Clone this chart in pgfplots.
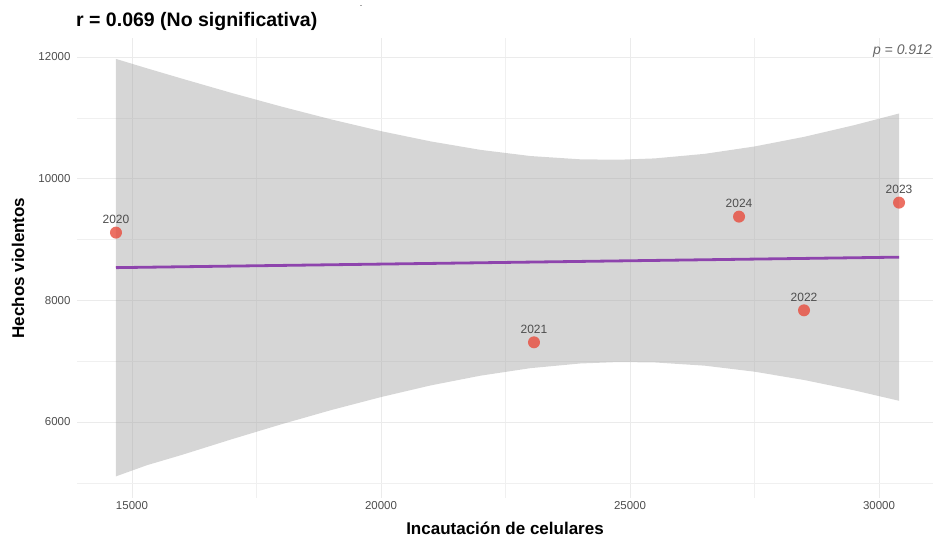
\documentclass[border=0pt]{standalone}
\usepackage{pgfplots}
\pgfplotsset{compat=1.18}
\usepackage{fontspec}
\setmainfont{Liberation Sans}
\definecolor{ptred}{HTML}{E74C3C}
\definecolor{linepurple}{HTML}{8E44AD}
\definecolor{bandgray}{HTML}{999999}
\definecolor{gridgray}{HTML}{EBEBEB}
\definecolor{ticktext}{HTML}{4D4D4D}
\definecolor{ptext}{HTML}{666666}
\pgfplotstableread{
x y label
14679 9113 2020
23072 7310 2021
28494 7836 2022
30402 9606 2023
27189 9376 2024
}\pointdata
\begin{document}
\begin{tikzpicture}[x=1pt,y=1pt]
\useasboundingbox (0,0) rectangle (933,538);
\begin{axis}[
  at={(77pt,40pt)}, anchor=south west, scale only axis,
  width=856pt, height=460pt,
  xmin=13896, xmax=31084, ymin=4751, ymax=12312,
  axis line style={draw=none},
  major tick length=0pt, minor tick length=0pt,
  xtick={15000,20000,25000,30000}, ytick={6000,8000,10000,12000},
  minor xtick={17500,22500,27500}, minor ytick={5000,7000,9000,11000},
  grid=both,
  major grid style={gridgray, line width=0.9pt},
  minor grid style={gridgray!75!white, line width=0.6pt},
  scaled ticks=false,
  /pgf/number format/1000 sep={},
  /pgf/number format/assume math mode=true,
  tick label style={font=\fontsize{11.5}{13}\selectfont, text=ticktext},
  yticklabel style={xshift=-3pt},
  xlabel={Incautación de celulares}, ylabel={Hechos violentos},
  label style={font=\bfseries\fontsize{17}{20}\selectfont},
  xlabel style={at={(axis description cs:0.5,-0.0804)}, anchor=base},
  ylabel style={at={(axis description cs:-0.0689,0.5)}, anchor=center},
]
\addplot[draw=none, fill=bandgray, fill opacity=0.4] coordinates {
(14679,11968) (15300,11814) (16000,11645) (17000,11409) (18000,11185) (19000,10974) (20000,10781)
(21000,10612) (22000,10473) (23000,10372) (24000,10318) (24767,10311) (25500,10333)
(26500,10408) (27500,10529) (28500,10688) (29500,10879) (30402,11071)
(30402,6349) (29500,6521) (28500,6690) (27500,6827) (26500,6926) (25500,6979) (24767,6986)
(24000,6962) (23000,6885) (22000,6762) (21000,6602) (20000,6410) (19000,6196) (18000,5963)
(17000,5716) (16000,5459) (15300,5290) (14679,5107)
};
\addplot[linepurple, line width=2.8pt] coordinates {(14679,8537.4) (30402,8709.8)};
\addplot[only marks, color=ptred, mark=*, mark size=6pt,
  mark options={draw=none, fill=ptred, fill opacity=0.8, draw opacity=0},
  nodes near coords, point meta=explicit symbolic,
  nodes near coords style={anchor=base, yshift=9pt, font=\fontsize{12}{14}\selectfont, text=ticktext, text opacity=1, fill opacity=1}]
  table[x=x, y=y, meta=label] {\pointdata};
\end{axis}
\node[anchor=base west, inner sep=0pt, font=\bfseries\fontsize{19.5}{22}\selectfont] at (76,511) {r = 0.069 (No significativa)};
\node[anchor=base east, inner sep=0pt, text=ptext, font=\itshape\fontsize{14}{16}\selectfont] at (932,483.5) {p = 0.912};
\node[anchor=center, inner sep=0pt, font=\fontsize{6}{7}\selectfont] at (361,531) {-};
\end{tikzpicture}
\end{document}
